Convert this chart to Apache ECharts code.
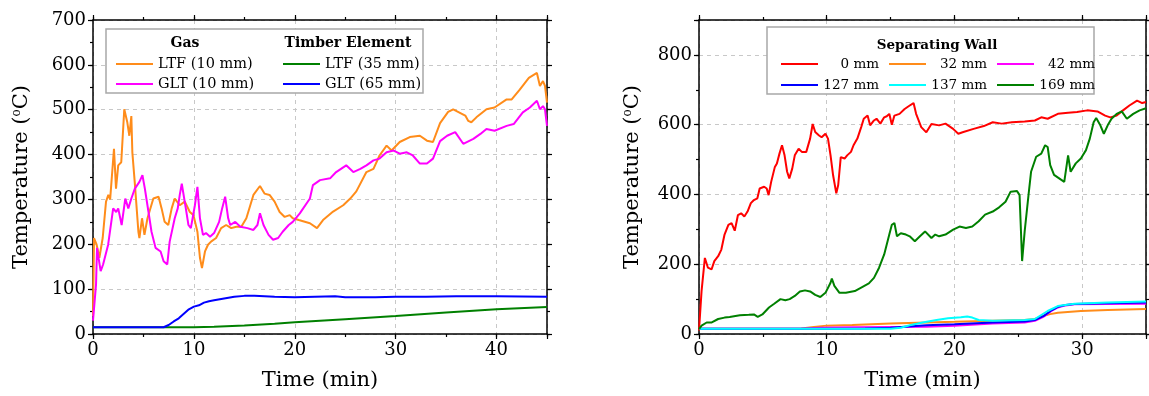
<!DOCTYPE html>
<html>
<head>
<meta charset="utf-8">
<script src="https://cdn.jsdelivr.net/npm/echarts@6/dist/echarts.min.js"></script>
<style>
  html, body { margin: 0; padding: 0; background: #fff; overflow: hidden; }
  #chart { width: 1149px; height: 396px; }
</style>
</head>
<body>
<div id="chart"></div>
<script>
// left panel: gas / timber element temperatures, [time (min), temperature (°C)]
const ltfGas = [[0,40],[0.1,214],[0.36,199],[0.63,170],[0.96,214],[1.29,295],[1.52,310],[1.7,300],[2.08,413],[2.28,324],[2.5,376],[2.8,383],[3.1,501],[3.4,472],[3.6,442],[3.8,486],[3.9,405],[4.16,332],[4.5,228],[4.6,214],[4.86,258],[5.1,221],[5.4,258],[5.98,302],[6.5,306],[6.8,280],[7.1,250],[7.46,243],[7.8,280],[8.1,302],[8.6,287],[9.1,295],[9.6,272],[9.96,265],[10.35,228],[10.6,170],[10.8,147],[11.1,184],[11.4,199],[11.7,206],[12.2,214],[12.7,236],[13.2,243],[13.7,236],[14.2,239],[14.7,239],[15.2,258],[15.9,310],[16.55,330],[17,313],[17.5,310],[18,295],[18.5,272],[19,261],[19.5,265],[19.8,258],[20.4,254],[21.5,247],[22.2,236],[22.8,254],[23.8,273],[24.8,287],[25.5,302],[26.1,318],[27.1,361],[27.8,368],[28.4,398],[29.1,420],[29.6,409],[30.4,428],[31.4,439],[32.4,442],[33.1,431],[33.7,428],[34.4,470],[35.2,495],[35.7,501],[36.9,487],[37.2,475],[37.5,472],[38,483],[39,501],[39.8,505],[41,523],[41.5,523],[42.3,545],[43.2,571],[44,582],[44.3,553],[44.6,564],[44.8,553],[45,516]];
const gltGas = [[0,30],[0.3,110],[0.4,192],[0.5,177],[0.76,140],[1.0,155],[1.5,199],[2.0,280],[2.3,272],[2.5,280],[2.84,243],[3.2,302],[3.5,280],[3.8,302],[4.15,324],[4.6,339],[4.9,354],[5.14,324],[5.5,272],[5.8,228],[6.2,192],[6.7,184],[7.0,162],[7.36,155],[7.6,206],[8.1,258],[8.4,280],[8.6,310],[8.8,335],[9.2,280],[9.46,243],[9.7,236],[10.1,287],[10.35,328],[10.6,258],[10.9,221],[11.2,225],[11.6,217],[12.0,225],[12.5,250],[12.8,280],[13.1,306],[13.4,258],[13.6,243],[14.1,250],[14.6,239],[15.3,236],[15.9,232],[16.3,243],[16.55,269],[16.9,243],[17.4,221],[17.85,210],[18.35,214],[18.8,228],[19.4,243],[19.8,250],[20.5,269],[21.5,302],[21.8,332],[22.5,343],[23.5,347],[24.1,361],[25.1,376],[25.8,361],[26.5,368],[27.1,376],[27.8,387],[28.4,391],[29.1,405],[29.8,409],[30.4,402],[31.1,405],[31.7,398],[32.4,380],[33.1,380],[33.7,391],[34.4,430],[35.1,442],[35.9,450],[36.7,424],[37.7,435],[38.4,446],[39,457],[39.8,453],[41,464],[41.7,468],[42.6,494],[43.3,505],[44,520],[44.3,501],[44.6,508],[44.8,501],[45,464]];
const ltfTimber = [[0,15],[7,15],[10,15],[12,16],[15,19],[18,23],[20,26],[25,33],[30,40],[35,48],[40,55],[45,60]];
const gltTimber = [[0,15],[7,15],[7.5,20],[8,28],[8.5,35],[9,45],[9.5,55],[10,61],[10.5,64],[11,70],[11.5,73],[12,75],[13,79],[14,83],[15,85],[16,85],[17,84],[18,83],[20,82],[22,83],[24,84],[25,82],[28,82],[30,83],[33,83],[36,84],[40,84],[45,83]];

// right panel: separating wall depths
const wall0 = [[0,10],[0.2,123],[0.46,218],[0.7,190],[0.98,185],[1.2,209],[1.5,223],[1.75,242],[2,285],[2.3,313],[2.55,318],[2.8,296],[3.05,341],[3.3,346],[3.55,337],[3.8,351],[4.06,375],[4.3,384],[4.57,389],[4.75,417],[5.1,422],[5.3,417],[5.45,398],[5.65,436],[5.94,479],[6.1,489],[6.3,517],[6.5,541],[6.7,512],[6.9,465],[7.07,446],[7.3,474],[7.5,512],[7.8,531],[8.05,522],[8.4,522],[8.7,560],[8.9,602],[9.1,579],[9.4,569],[9.6,564],[9.9,574],[10.1,560],[10.3,512],[10.5,455],[10.75,403],[10.9,427],[11.1,507],[11.4,503],[11.6,512],[11.9,522],[12.1,541],[12.4,560],[12.7,593],[12.9,617],[13.2,626],[13.4,598],[13.7,612],[13.9,617],[14.2,603],[14.5,621],[14.7,624],[14.9,631],[15.1,600],[15.3,626],[15.7,631],[16.1,645],[16.5,655],[16.8,662],[17.0,631],[17.4,593],[17.8,578],[18.2,602],[18.8,598],[19.3,603],[19.9,588],[20.3,574],[20.7,579],[21.5,588],[22.3,596],[23,607],[23.7,603],[24.5,607],[25.5,609],[26.3,612],[26.8,621],[27.3,617],[28.1,631],[28.9,634],[29.6,636],[30.4,641],[31.2,638],[31.8,626],[32.2,621],[32.7,626],[33.2,641],[33.7,655],[34.3,669],[34.7,662],[35,665]];
const wall32 = [[0,15],[5,15],[8,16],[9,20],[10,24],[12,26],[15,30],[17.8,33],[20,35],[23,38],[25.5,40],[26.3,43],[26.8,50],[27.5,57],[28.1,61],[29.9,66],[32,69],[35,72]];
const wall42 = [[0,15],[8,15],[9.5,18],[12,19],[15,20],[17.8,21],[20,24],[23,30],[25.5,33],[26.3,38],[27,50],[27.6,66],[28.1,76],[28.7,82],[29.4,85],[32,86],[35,87]];
const wall127 = [[0,15],[10,15],[13,16],[15,18],[17.8,25],[20,28],[23,33],[25.5,36],[26.3,40],[27,52],[27.6,68],[28.1,78],[28.7,83],[29.4,86],[32,88],[35,90]];
const wall137 = [[0,15],[15,15],[15.8,18],[16.5,25],[17.5,33],[18.6,40],[19.5,45],[20.5,48],[21,50],[21.4,47],[21.9,40],[23,38],[25.5,40],[26.3,43],[27.3,66],[28.1,80],[29.4,87],[32,90],[35,93]];
const wall169 = [[0,14],[0.2,24],[0.6,33],[1.0,33],[1.5,43],[2,47],[2.4,49],[3.2,54],[3.9,55],[4.3,56],[4.6,49],[4.96,56],[5.48,76],[5.86,86],[6.38,100],[6.76,97],[7.1,100],[7.5,109],[7.9,122],[8.3,125],[8.7,122],[9.1,112],[9.5,106],[9.9,118],[10.3,147],[10.4,159],[10.6,138],[11.0,118],[11.5,118],[12.2,123],[12.7,133],[13.3,145],[13.7,161],[14.1,190],[14.5,228],[14.9,285],[15.1,313],[15.3,318],[15.5,280],[15.8,289],[16.2,285],[16.5,280],[16.9,266],[17.3,280],[17.7,294],[18.2,275],[18.5,285],[18.8,280],[19.3,285],[19.9,299],[20.4,308],[20.9,304],[21.4,308],[21.9,323],[22.4,342],[23,351],[23.5,363],[24,379],[24.4,408],[24.9,410],[25.1,398],[25.3,209],[25.5,294],[25.8,398],[26.0,465],[26.4,508],[26.8,517],[27.1,541],[27.3,536],[27.5,484],[27.8,456],[28.4,441],[28.6,436],[28.9,512],[29.1,465],[29.5,489],[29.9,503],[30.3,527],[30.6,560],[30.9,607],[31.1,619],[31.4,600],[31.7,574],[32.0,598],[32.3,617],[32.7,631],[33.1,638],[33.5,617],[34,631],[34.5,641],[35,647]];

// axis ranges / tick steps
const leftX = { max: 45, major: 10, minor: 5 };
const leftY = { max: 700, major: 100, minor: 50 };
const rightX = { max: 35, major: 10, minor: 5 };
const rightY = { max: 900, major: 200, minor: 100 };

const FONT = 'DejaVu Serif';
const chart = echarts.init(document.getElementById('chart'));

// 4 axes per direction per grid: coarse + fine on each side (fine = short minor ticks)
function makeAxes(dir, g, r, name, nameGap) {
  const sides = dir === 'x' ? ['bottom', 'top'] : ['left', 'right'];
  const out = [];
  sides.forEach((pos, i) => {
    // coarse
    out.push({
      type: 'value', gridIndex: g, position: pos, min: 0, max: r.max, interval: r.major,
      name: i === 0 ? name : '', nameLocation: 'middle', nameGap: nameGap,
      nameRotate: dir === 'y' ? 90 : 0,
      nameTextStyle: {
        fontFamily: FONT, fontSize: 21, color: '#000',
        rich: { sup: { fontFamily: FONT, fontSize: 12, verticalAlign: 'top', lineHeight: 12 } }
      },
      axisLine: { show: true, onZero: false, lineStyle: { color: '#000', width: 1.5 } },
      axisTick: { show: true, inside: false, length: 5, lineStyle: { color: '#000', width: 1.2 } },
      axisLabel: {
        show: i === 0, margin: 7, fontFamily: FONT, fontSize: 18, color: '#000',
        formatter: v => (Math.abs(v % r.major) < 1e-9 ? String(v) : '')
      },
      splitLine: { show: i === 0, lineStyle: { color: '#c8c8c8', type: [4, 4], width: 1 } },
      z: 3
    });
    // fine
    out.push({
      type: 'value', gridIndex: g, position: pos, min: 0, max: r.max, interval: r.minor,
      axisLine: { show: false, onZero: false },
      axisTick: { show: true, inside: false, length: 3, lineStyle: { color: '#000', width: 1.2 } },
      axisLabel: { show: false },
      splitLine: { show: false },
      z: 3
    });
  });
  return out;
}

const xAxis = [].concat(
  makeAxes('x', 0, leftX, 'Time (min)', 36),
  makeAxes('x', 1, rightX, 'Time (min)', 36)
);
const yAxis = [].concat(
  makeAxes('y', 0, leftY, 'Temperature ({sup|o}C)', 61),
  makeAxes('y', 1, rightY, 'Temperature ({sup|o}C)', 56)
);

function line(name, data, color, g) {
  return {
    name, type: 'line', data, xAxisIndex: g * 4, yAxisIndex: g * 4,
    showSymbol: false, symbol: 'none', clip: true,
    lineStyle: { color, width: 2 }, itemStyle: { color }
  };
}

const legendText = { fontFamily: FONT, fontSize: 14.5, color: '#000', lineHeight: 18 };
const wallText = {
  fontFamily: FONT, fontSize: 13.5, color: '#000', lineHeight: 18,
  rich: { a: { fontFamily: FONT, fontSize: 13.5, color: '#000', width: 56, align: 'right' } }
};
const wallFmt = n => '{a|' + n + '}';

const option = {
  animation: false,
  backgroundColor: '#fff',
  grid: [
    { left: 93, top: 20, width: 454, height: 317 },
    { left: 699, top: 20, width: 453, height: 317 }
  ],
  xAxis, yAxis,
  legend: [
    { data: ['LTF (10 mm)', 'GLT (10 mm)'], orient: 'vertical', left: 116, top: 55, padding: 0,
      itemGap: 2, itemWidth: 37, itemHeight: 2, icon: 'rect', textStyle: legendText, selectedMode: false, z: 6 },
    { data: ['LTF (35 mm)', 'GLT (65 mm)'], orient: 'vertical', left: 283, top: 55, padding: 0,
      itemGap: 2, itemWidth: 37, itemHeight: 2, icon: 'rect', textStyle: legendText, selectedMode: false, z: 6 },
    { data: ['0 mm', '32 mm', '42 mm'], orient: 'horizontal', left: 781, top: 55, padding: 0,
      itemGap: 10, itemWidth: 37, itemHeight: 2, icon: 'rect', textStyle: wallText, formatter: wallFmt, selectedMode: false, z: 6 },
    { data: ['127 mm', '137 mm', '169 mm'], orient: 'horizontal', left: 781, top: 76, padding: 0,
      itemGap: 10, itemWidth: 37, itemHeight: 2, icon: 'rect', textStyle: wallText, formatter: wallFmt, selectedMode: false, z: 6 }
  ],
  graphic: [
    { type: 'rect', z: 4, shape: { x: 106, y: 29, width: 317, height: 64 },
      style: { fill: '#fff', stroke: '#a8a8a8', lineWidth: 1.5 } },
    { type: 'text', z: 7, x: 185, y: 43,
      style: { text: 'Gas', font: 'bold 14px "DejaVu Serif"', fill: '#000', textAlign: 'center', textVerticalAlign: 'middle' } },
    { type: 'text', z: 7, x: 348, y: 43,
      style: { text: 'Timber Element', font: 'bold 14px "DejaVu Serif"', fill: '#000', textAlign: 'center', textVerticalAlign: 'middle' } },
    { type: 'rect', z: 4, shape: { x: 767, y: 27, width: 327, height: 67 },
      style: { fill: '#fff', stroke: '#a8a8a8', lineWidth: 1.5 } },
    { type: 'text', z: 7, x: 937, y: 45,
      style: { text: 'Separating Wall', font: 'bold 13.5px "DejaVu Serif"', fill: '#000', textAlign: 'center', textVerticalAlign: 'middle' } }
  ],
  series: [
    line('LTF (10 mm)', ltfGas, '#ff8c1a', 0),
    line('GLT (10 mm)', gltGas, '#ff00ff', 0),
    line('LTF (35 mm)', ltfTimber, '#008000', 0),
    line('GLT (65 mm)', gltTimber, '#0000ff', 0),
    line('0 mm', wall0, '#ff0000', 1),
    line('32 mm', wall32, '#ff8c1a', 1),
    line('42 mm', wall42, '#ff00ff', 1),
    line('127 mm', wall127, '#0000ff', 1),
    line('137 mm', wall137, '#00ffff', 1),
    line('169 mm', wall169, '#008000', 1)
  ]
};
chart.setOption(option);
</script>
</body>
</html>
